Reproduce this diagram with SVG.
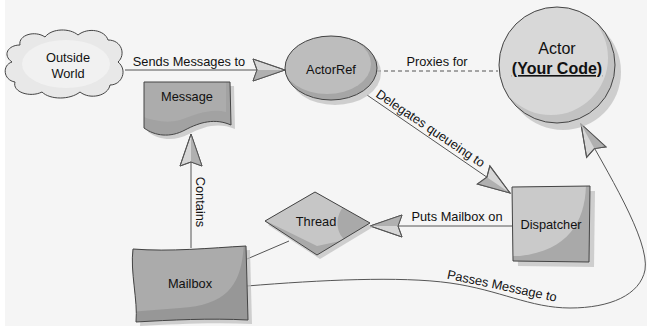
<svg xmlns="http://www.w3.org/2000/svg" width="647" height="326" viewBox="0 0 647 326">
<style>
text{font-family:"Liberation Sans",Arial,sans-serif;font-size:12.8px;fill:#111}
.node{stroke:#444;stroke-width:1}
.shadow{fill:#bdbdbd;opacity:0.7}
.conn{fill:none;stroke:#555;stroke-width:1}
.mid{text-anchor:middle}
</style>
<defs>
<marker id="arr" markerUnits="userSpaceOnUse" markerWidth="36" markerHeight="26" refX="32" refY="11" orient="auto" overflow="visible">
<path d="M0,0 L32,11 L0,22 L4,11 Z" fill="#d6d6d6" stroke="#555" stroke-width="1"/>
<path d="M4,11 L32,11 L0,22 Z" fill="#b0b0b0" stroke="none"/>
<path d="M0,0 L32,11 L0,22 L4,11 Z" fill="none" stroke="#555" stroke-width="1"/>
</marker>
<clipPath id="cActorRef"><ellipse cx="331" cy="68" rx="46" ry="32"/></clipPath>
<clipPath id="cActor"><circle cx="557" cy="65" r="58"/></clipPath>
<clipPath id="cDisp"><path d="M512 187 L590 186 L589 262 L513 261 Z"/></clipPath>
<clipPath id="cThread"><path d="M265 221 L315 192 L370 223 L317 255 Z"/></clipPath>
<clipPath id="cMail"><path d="M133 249 C170 252 210 248 246 246 L248 320 C210 318 170 320 136 322 C138 300 130 272 133 249 Z"/></clipPath>
<clipPath id="cMsg"><path d="M144 82 L230 82 L231 125 C215 118 200 122 185 130 C170 138 155 136 144 128 Z"/></clipPath>
</defs>
<rect x="0" y="0" width="647" height="326" fill="#ffffff"/>
<rect x="5" y="0" width="642" height="326" fill="#f5f5f5"/>

<g id="connectors">
<path class="conn" d="M125 70 L285 70" marker-end="url(#arr)"/>
<path class="conn" d="M377 71 L498 71" stroke-dasharray="4,3"/>
<path class="conn" d="M367 95 L510 193" marker-end="url(#arr)"/>
<path class="conn" d="M512 226 L370 226" marker-end="url(#arr)"/>
<path class="conn" d="M191 248 L191 134" marker-end="url(#arr)"/>
<path class="conn" d="M247 259 L289 241"/>
<path class="conn" d="M247 286 C320 280 400 276 450 283 C500 290 530 308 570 308 C610 308 640 295 645 270 C650 240 606 170 581 124" marker-end="url(#arr)"/>
<text x="189" y="66" class="mid">Sends Messages to</text>
<text x="437" y="66" class="mid">Proxies for</text>
<text transform="translate(428,132) rotate(34)" class="mid">Delegates queueing to</text>
<text x="457" y="221" class="mid">Puts Mailbox on</text>
<text transform="translate(196,202) rotate(90)" class="mid">Contains</text>
<text transform="translate(501,290) rotate(12)" class="mid">Passes Message to</text>
</g>

<g id="outside-world">
<path class="node" fill="#e8e8e8" d="M20 45 C18 35 35 30 45 37 C52 28 70 28 78 35 C88 27 105 30 108 40 C122 40 126 55 118 62 C128 70 122 85 110 85 C108 96 90 100 80 92 C70 100 50 100 42 92 C30 98 12 92 15 82 C3 80 2 65 12 62 C2 55 8 45 20 45 Z"/>
<ellipse cx="66" cy="64" rx="44" ry="24" fill="#f1f1f1"/>
<text x="68" y="62" class="mid">Outside</text>
<text x="68" y="78" class="mid">World</text>
</g>

<g id="actorref">
<ellipse class="shadow" cx="335" cy="73" rx="46" ry="32"/>
<ellipse cx="331" cy="68" rx="46" ry="32" fill="#a6a6a6"/>
<ellipse cx="327" cy="64" rx="44" ry="30" fill="#bdbdbd" clip-path="url(#cActorRef)"/>
<ellipse class="node" cx="331" cy="68" rx="46" ry="32" fill="none"/>
<text x="331" y="74" class="mid">ActorRef</text>
</g>

<g id="actor">
<circle class="shadow" cx="563" cy="72" r="58"/>
<circle cx="557" cy="65" r="58" fill="#c2c2c2"/>
<circle cx="551" cy="58" r="57" fill="#d8d8d8" clip-path="url(#cActor)"/>
<circle class="node" cx="557" cy="65" r="58" fill="none"/>
<text x="557" y="54" class="mid" style="font-size:16px">Actor</text>
<text x="557" y="74" class="mid" style="font-size:16px;font-weight:bold;text-decoration:underline">(Your Code)</text>
</g>

<g id="message">
<path class="shadow" d="M148 86 L234 86 L235 129 C219 122 204 126 189 134 C174 142 159 140 148 132 Z"/>
<path d="M144 82 L230 82 L231 125 C215 118 200 122 185 130 C170 138 155 136 144 128 Z" fill="#a2a2a2"/>
<path d="M140 78 L226 78 L226 112 C210 108 195 115 180 120 C165 124 152 120 140 116 Z" fill="#acacac" clip-path="url(#cMsg)"/>
<path class="node" fill="none" d="M144 82 L230 82 L231 125 C215 118 200 122 185 130 C170 138 155 136 144 128 Z"/>
<text x="187" y="101" class="mid">Message</text>
</g>

<g id="mailbox">
<path class="shadow" d="M137 253 C174 256 214 252 250 250 L252 324 C214 322 174 324 140 326 C142 304 134 276 137 253 Z"/>
<path d="M133 249 C170 252 210 248 246 246 L248 320 C210 318 170 320 136 322 C138 300 130 272 133 249 Z" fill="#979797"/>
<path d="M128 244 L244 242 C242 280 232 305 180 308 L128 312 Z" fill="#ababab" clip-path="url(#cMail)"/>
<path class="node" fill="none" d="M133 249 C170 252 210 248 246 246 L248 320 C210 318 170 320 136 322 C138 300 130 272 133 249 Z"/>
<text x="190" y="288" class="mid">Mailbox</text>
</g>

<g id="thread">
<path class="shadow" d="M268 225 L318 196 L373 227 L320 259 Z"/>
<path d="M265 221 L315 192 L370 223 L317 255 Z" fill="#a9a9a9"/>
<path d="M260 218 L315 188 L345 205 C335 215 335 232 345 240 L317 246 Z" fill="#c6c6c6" clip-path="url(#cThread)"/>
<path class="node" fill="none" d="M265 221 L315 192 L370 223 L317 255 Z"/>
<text x="316" y="226" class="mid">Thread</text>
</g>

<g id="dispatcher">
<path class="shadow" d="M517 192 L595 191 L594 267 L518 266 Z"/>
<path d="M512 187 L590 186 L589 262 L513 261 Z" fill="#a9a9a9"/>
<path d="M508 182 L586 182 C586 220 570 250 520 256 L508 256 Z" fill="#cacaca" clip-path="url(#cDisp)"/>
<path class="node" fill="none" d="M512 187 L590 186 L589 262 L513 261 Z"/>
<text x="551" y="229" class="mid">Dispatcher</text>
</g>
</svg>
